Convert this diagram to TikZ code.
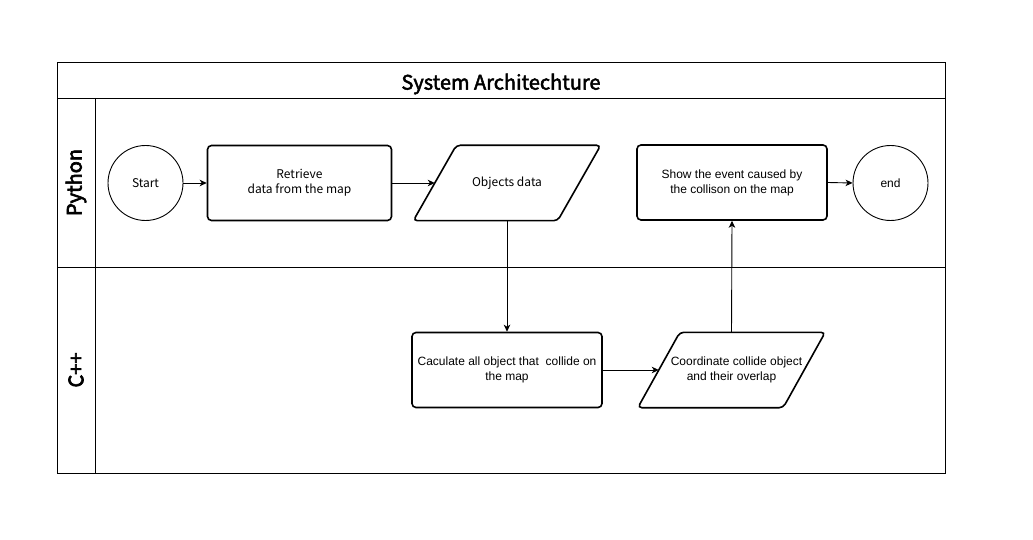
\documentclass[tikz,border=0pt]{standalone}
\usepackage{fontspec}
\setmainfont{Liberation Sans}
\newfontfamily\sourcefont{Noto Sans CJK SC}
\newfontfamily\sourcesemi{Noto Sans CJK SC}[FakeBold=2.4]
\newfontfamily\sourcelane{Noto Sans CJK SC}[FakeBold=3.2]
\usetikzlibrary{arrows.meta,calc}

\tikzset{
  frameline/.style={draw=black, line width=0.9pt},
  procbox/.style={draw=black, line width=1.6pt, rounded corners=4pt,
    minimum width=#1, minimum height=75pt, inner sep=0pt, align=center,
    font=\fontsize{12}{15}\selectfont},
  procbox/.default=185pt,
  termcircle/.style={draw=black, line width=0.9pt, circle, minimum size=75pt,
    inner sep=0pt, font=\fontsize{12}{15}\selectfont},
  dataholder/.style={minimum width=144pt, minimum height=75pt, inner sep=0pt,
    align=center, font=\fontsize{12}{15}\selectfont},
  dataoutline/.style={draw=black, line width=1.6pt, rounded corners=4pt},
  flow/.style={draw=black, line width=0.9pt,
    -{Stealth[length=7pt,width=6.5pt,inset=2pt]}},
  lanelabel/.style={rotate=90, font=\sourcelane\fontsize{20}{24}\selectfont},
}

\begin{document}
\begin{tikzpicture}[x=1pt, y=-1pt]
  % canvas
  \useasboundingbox (0,0) rectangle (1033,540);
  \fill[white] (0,0) rectangle (1033,540);

  % pool frame with title band and two lanes
  \draw[frameline] (57,62) rectangle (945,473);
  \draw[frameline] (57,98) -- (945,98);
  \draw[frameline] (57,267) -- (945,267);
  \draw[frameline] (95.5,98) -- (95.5,473);
  \node (title) at (501,84) {\sourcesemi\fontsize{20}{24}\selectfont System Architechture};
  \node[lanelabel] (pylane) at (76,182.5) {Python};
  \node[lanelabel] (cpplane) at (76,370) {C++};

  % Python lane
  \node[termcircle] (start) at (145.5,183) {\sourcefont Start};
  \node[procbox=184pt] (retrieve) at (299.5,183)
    {\sourcefont Retrieve\\\sourcefont data from the map};
  \node[dataholder] (objects) at (507,183) {\sourcefont Objects data};
  \draw[dataoutline]
    ($(objects.south west)+(-21.5,0)$) -- ($(objects.north west)+(21.5,0)$)
    -- ($(objects.north east)+(21.5,0)$) -- ($(objects.south east)+(-21.5,0)$) -- cycle;
  \node[procbox=190pt] (show) at (732,182.5)
    {Show the event caused by\\ the collison on the map};
  \node[termcircle] (finish) at (890.5,183) {end};

  % C++ lane
  \node[procbox=190pt] (collide) at (507,370)
    {Caculate all object that\ \ collide on\\the map};
  \node[dataholder, minimum width=145pt] (coord) at (731.5,370)
    {\hspace*{10pt}Coordinate collide object\\and their overlap};
  \draw[dataoutline]
    ($(coord.south west)+(-21,0)$) -- ($(coord.north west)+(21,0)$)
    -- ($(coord.north east)+(21,0)$) -- ($(coord.south east)+(-21,0)$) -- cycle;

  % flow
  \draw[flow] (start) -- (retrieve);
  \draw[flow] (retrieve.east) -- (objects.west);
  \draw[flow] (objects.south) -- (collide.north);
  \draw[flow] (collide.east) -- (coord.west);
  \draw[flow] (coord.north) -- (show.south);
  \draw[flow] (show.east) -- (finish.west);
\end{tikzpicture}
\end{document}
